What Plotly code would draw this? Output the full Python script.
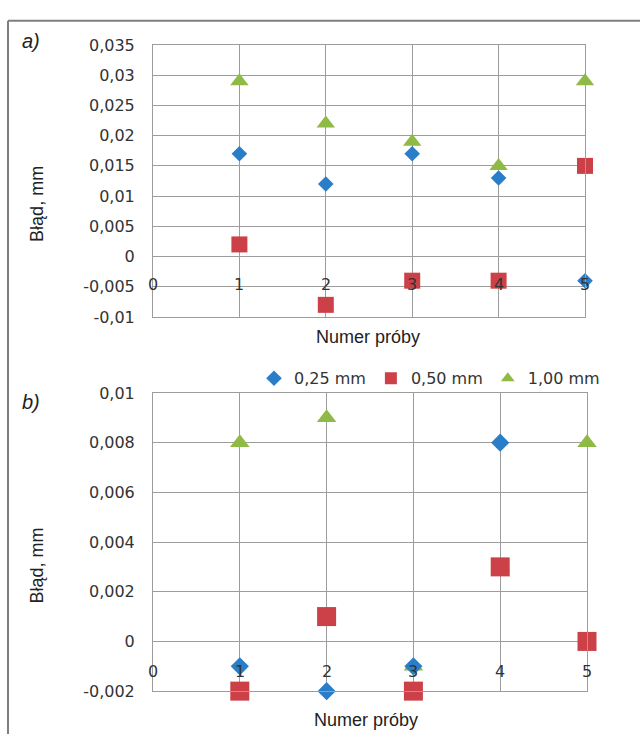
import plotly.graph_objects as go

# ---------------- data ----------------
TRIALS = [1, 2, 3, 4, 5]
SERIES_NAMES = ["0,25 mm", "0,50 mm", "1,00 mm"]
SERIES_COLORS = ["#2a7ec8", "#cc4048", "#8fba45"]

A_025 = [0.017, 0.012, 0.017, 0.013, -0.004]
A_050 = [0.002, -0.008, -0.004, -0.004, 0.015]
A_100 = [0.029, 0.022, 0.019, 0.015, 0.029]

B_025 = [-0.001, -0.002, -0.001, 0.008, 0.0]
B_050 = [-0.002, 0.001, -0.002, 0.003, 0.0]
B_100 = [0.008, 0.009, -0.001, 0.003, 0.008]

A_Y_TICKS = [-0.01, -0.005, 0, 0.005, 0.01, 0.015, 0.02, 0.025, 0.03, 0.035]
A_Y_LABELS = ["-0,01", "-0,005", "0", "0,005", "0,01", "0,015", "0,02", "0,025", "0,03", "0,035"]
B_Y_TICKS = [-0.002, 0, 0.002, 0.004, 0.006, 0.008, 0.01]
B_Y_LABELS = ["-0,002", "0", "0,002", "0,004", "0,006", "0,008", "0,01"]
X_TICKS = [0, 1, 2, 3, 4, 5]
X_LABELS = ["0", "1", "2", "3", "4", "5"]

Y_TITLE = "Błąd, mm"
X_TITLE = "Numer próby"

W, H = 640, 744
GRID = "#9c9c9c"
TXT = "#333333"
TICK_FONT = dict(family="DejaVu Sans", size=16, color=TXT)


def px(x):
    return x / W


def py(y):
    return 1 - y / H


fig = go.Figure()

symbols = ["diamond", "square", "triangle-up"]
sizes_a = [12, 16, 16]
sizes_b = [14, 19, 17]
data_a = [A_025, A_050, A_100]
data_b = [B_025, B_050, B_100]
draw_order = [2, 0, 1]  # green first, then blue, red on top

for i in draw_order:
    fig.add_trace(go.Scatter(
        x=TRIALS, y=data_a[i], mode="markers", name=SERIES_NAMES[i],
        marker=dict(symbol=symbols[i], size=sizes_a[i], color=SERIES_COLORS[i]),
        xaxis="x", yaxis="y", showlegend=False, legendgroup=SERIES_NAMES[i],
        cliponaxis=False,
    ))
for i in draw_order:
    fig.add_trace(go.Scatter(
        x=TRIALS, y=data_b[i], mode="markers", name=SERIES_NAMES[i],
        marker=dict(symbol=symbols[i], size=sizes_b[i], color=SERIES_COLORS[i]),
        xaxis="x2", yaxis="y2", showlegend=True, legendgroup=SERIES_NAMES[i],
        legendrank=i + 1, cliponaxis=False,
    ))

axis_common = dict(showgrid=True, gridcolor=GRID, gridwidth=1, zeroline=False,
                   showline=True, linecolor=GRID, linewidth=1, mirror=True,
                   fixedrange=True)

fig.update_layout(
    width=W, height=H,
    margin=dict(l=0, r=0, t=0, b=0),
    paper_bgcolor="white", plot_bgcolor="white",
    xaxis=dict(domain=[px(153), px(585)], range=[0, 5], tickvals=X_TICKS,
               showticklabels=False, anchor="y", **axis_common),
    yaxis=dict(domain=[py(316), py(37)], range=[-0.01, 0.035], tickvals=A_Y_TICKS,
               ticktext=A_Y_LABELS, tickfont=TICK_FONT, ticklabelstandoff=14,
               anchor="x", **axis_common),
    xaxis2=dict(domain=[px(153), px(587)], range=[0, 5], tickvals=X_TICKS,
                showticklabels=False, anchor="y2", **axis_common),
    yaxis2=dict(domain=[py(700), py(394)], range=[-0.002, 0.01], tickvals=B_Y_TICKS,
                ticktext=B_Y_LABELS, tickfont=TICK_FONT, ticklabelstandoff=14,
                anchor="x2", **axis_common),
    legend=dict(orientation="h", x=px(254), y=py(379), xanchor="left", yanchor="middle",
                font=dict(family="DejaVu Sans", size=16, color="#333333"),
                bgcolor="rgba(0,0,0,0)", itemwidth=30, itemsizing="constant",
                tracegroupgap=0),
    showlegend=True,
)

annotations = []
for xv, lab in zip(X_TICKS, X_LABELS):
    annotations.append(dict(x=xv, y=0, xref="x", yref="y", text=lab, showarrow=False,
                            xanchor="center", yanchor="middle", yshift=-28, font=TICK_FONT))
    annotations.append(dict(x=xv, y=0, xref="x2", yref="y2", text=lab, showarrow=False,
                            xanchor="center", yanchor="middle", yshift=-30, font=TICK_FONT))

title_font = dict(family="Liberation Sans", size=18, color="#222222")
label_font = dict(family="Liberation Sans", size=20, color="#222222")
annotations += [
    dict(x=px(37), y=py(200), text=Y_TITLE, textangle=-90, font=title_font),
    dict(x=px(37), y=py(571), text=Y_TITLE, textangle=-90, font=title_font),
    dict(x=px(368), y=py(337), text=X_TITLE, font=title_font),
    dict(x=px(366), y=py(730), text=X_TITLE, font=title_font),
    dict(x=px(31), y=py(33), text="<i>a)</i>", font=label_font),
    dict(x=px(31), y=py(403), text="<i>b)</i>", font=label_font),
]
for a in annotations[-6:]:
    a.update(xref="paper", yref="paper", showarrow=False, xanchor="center", yanchor="middle")
fig.update_layout(annotations=annotations)

# outer frame (cropped on right and bottom)
fig.add_shape(type="line", xref="paper", yref="paper", x0=px(8), x1=1.0, y0=py(12), y1=py(12),
              line=dict(color="#7f7f7f", width=2))
fig.add_shape(type="line", xref="paper", yref="paper", x0=px(8), x1=px(8), y0=py(12), y1=0,
              line=dict(color="#7f7f7f", width=2))

fig.write_html("out.html", config={"displayModeBar": False},
               post_script="document.body.style.margin='0';")
